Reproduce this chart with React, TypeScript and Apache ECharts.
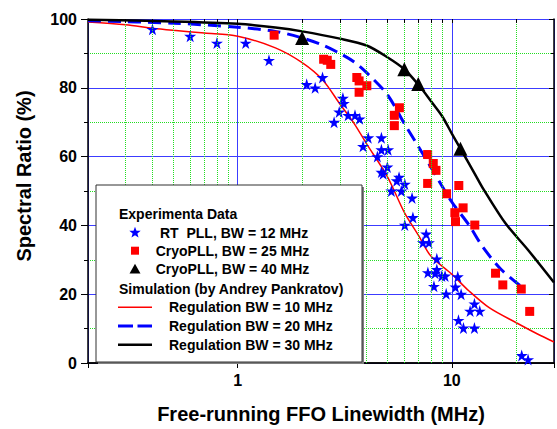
import { useEffect, useRef } from "react";
import * as echarts from "echarts";

// ---- Experimental data ----
const rtPllX = [0.4, 0.6, 0.8, 1.09, 1.4, 2.1, 2.3, 2.49, 3.1, 3.13, 2.98, 3.28, 3.53, 3.71, 2.82, 4.07, 4.69, 3.85, 4.69, 5.04, 4.49, 5.0, 4.69, 4.78, 5.53, 5.67, 6.03, 5.22, 5.81, 6.52, 6.58, 6.03, 7.59, 7.33, 7.82, 8.51, 8.51, 7.73, 8.35, 8.98, 9.3, 10.66, 8.25, 10.4, 9.41, 11.05, 12.75, 12.17, 13.5, 10.74, 11.33, 12.75, 21.2, 22.7];
const rtPllY = [97, 95, 93, 93, 88, 81, 80, 83, 77, 75.5, 73, 72, 72, 71, 70, 65.5, 65.5, 63, 62, 62, 60, 57, 55.5, 55, 53, 54, 52, 50, 50, 48, 42.3, 40.1, 37.5, 35, 35, 30.3, 27.2, 26.3, 26.1, 25.3, 25.3, 25.1, 22.3, 22.1, 20.1, 20, 17.2, 15.1, 15.1, 12.4, 10.2, 10.2, 2.2, 1.0];

const cryo25X = [1.48, 2.52, 2.62, 2.72, 3.6, 3.69, 4.01, 3.69, 5.69, 5.39, 5.39, 7.71, 8.19, 8.43, 7.71, 9.45, 10.78, 10.33, 11.29, 10.4, 12.8, 16.0, 17.3, 21.1, 23.1];
const cryo25Y = [95.3, 88.3, 88, 86.8, 83, 82, 80.6, 78.7, 74.2, 72, 69, 60.6, 58, 56, 52.2, 49.2, 51.6, 43.7, 45.1, 41.1, 40.1, 26.1, 22.7, 21.5, 15];

const cryo40X = [2.0, 6.0, 6.97, 10.97];
const cryo40Y = [94.5, 85.4, 81.1, 62.3];

// ---- Simulation curves ----
const sim10X = [0.2, 0.3, 0.4, 0.5, 0.7, 1, 1.5, 2, 2.5, 3, 3.5, 4, 5, 6, 7, 8, 10, 12, 15, 20, 25, 30];
const sim10Y = [99.1, 98.3, 97.3, 96.7, 95.9, 95.0, 91.6, 87.3, 82.2, 75.3, 69.6, 63.7, 54.2, 43.8, 37, 31, 25.8, 21, 16, 11.7, 8.5, 6.1];

const sim20X = [0.2, 0.5, 1, 1.5, 2, 2.5, 3, 3.5, 4, 5, 6, 7, 8, 10, 12, 14, 17, 21.5];
const sim20Y = [99.5, 98.8, 97.6, 96.4, 94.5, 92.4, 90, 87.5, 84.4, 78, 69.6, 62.8, 56.8, 46.8, 40.2, 33.6, 27.2, 21.8];

const sim30X = [0.2, 0.5, 1, 1.5, 2, 3, 4, 5, 6, 7, 8, 9, 10, 11, 12.8, 14, 17.8, 22.6, 30];
const sim30Y = [99.8, 99.3, 98.6, 97.5, 96.4, 94.3, 92.3, 88.9, 85.4, 80.8, 76.1, 71.8, 66.7, 62.2, 55, 50.7, 40.6, 33, 23.4];

// ---- Axis ticks ----
const xMajorTicks = [1, 10];
const xMinorTicks = [0.3, 0.4, 0.5, 0.6, 0.7, 0.8, 0.9, 2, 3, 4, 5, 6, 7, 8, 9, 20];
const yMin = 0;
const yMax = 100;

const FONT = '"Liberation Sans", Arial, Helvetica, sans-serif';
const STAR = "path://M50,0 L61,35 L98,35 L68,57 L79,91 L50,70 L21,91 L32,57 L2,35 L39,35 Z";

const zip = (xs: number[], ys: number[]) => xs.map((x, i) => [x, ys[i]]);

function starPoints(cx: number, cy: number, R: number, r: number) {
  const pts: number[][] = [];
  for (let i = 0; i < 10; i++) {
    const a = -Math.PI / 2 + (i * Math.PI) / 5;
    const rad = i % 2 === 0 ? R : r;
    pts.push([cx + rad * Math.cos(a), cy + rad * Math.sin(a)]);
  }
  return pts;
}

function legendText(x: number, y: number, text: string) {
  return {
    type: "text",
    x,
    y,
    z: 102,
    style: {
      text,
      fill: "#000",
      fontFamily: FONT,
      fontWeight: "bold",
      fontSize: 14,
      align: "left",
      verticalAlign: "middle",
    },
  };
}

export default function App() {
  const ref = useRef<HTMLDivElement>(null);
  useEffect(() => {
    const chart = echarts.init(ref.current!, undefined, { renderer: "svg" });
    const tickLen = 1.15; // in y units (~4px)
    const minorGridLines = xMinorTicks.map((x) => ({
      xAxis: x,
      lineStyle: { color: "#22dd22", width: 1, type: "dotted" },
    }));
    const bottomTicks = xMinorTicks.map((x) => [
      { coord: [x, yMin], lineStyle: { color: "#000", width: 1, type: "solid" } },
      { coord: [x, yMin - tickLen] },
    ]);
    const topTicks = xMajorTicks.concat(xMinorTicks).map((x) => [
      { coord: [x, yMax], lineStyle: { color: "#000", width: 1, type: "solid" } },
      { coord: [x, yMax - tickLen] },
    ]);
    const option: any = {
      animation: false,
      backgroundColor: "#fff",
      grid: { left: 88, top: 19, right: 1, bottom: 61 },
      xAxis: [
        {
          type: "log",
          logBase: 10,
          min: 0.2,
          max: 30,
          position: "bottom",
          name: "Free-running FFO Linewidth (MHz)",
          nameLocation: "middle",
          nameGap: 41,
          nameTextStyle: { fontFamily: FONT, fontWeight: "bold", fontSize: 20, color: "#000" },
          axisLine: { show: true, lineStyle: { color: "#000", width: 1.5 } },
          axisTick: { show: true, length: 5, lineStyle: { color: "#000", width: 1 } },
          axisLabel: {
            formatter: (v: number) => (xMajorTicks.indexOf(Math.round(v * 1000) / 1000) >= 0 ? String(Math.round(v)) : ""),
            fontFamily: FONT,
            fontWeight: "bold",
            fontSize: 16,
            color: "#000",
            margin: 9,
          },
          splitLine: { show: true, lineStyle: { color: "#3c3cff", width: 1 } },
        },
        {
          type: "log",
          logBase: 10,
          min: 0.2,
          max: 30,
          position: "top",
          axisLine: { show: true, lineStyle: { color: "#000", width: 1.5 } },
          axisTick: { show: false },
          axisLabel: { show: false },
          splitLine: { show: false },
        },
      ],
      yAxis: [
        {
          type: "value",
          min: yMin,
          max: yMax,
          interval: 20,
          position: "left",
          axisLine: { show: true, lineStyle: { color: "#000", width: 1.5 } },
          axisTick: { show: true, length: 7, lineStyle: { color: "#000", width: 1 } },
          minorTick: { show: true, splitNumber: 2, length: 4, lineStyle: { color: "#000", width: 1 } },
          minorSplitLine: { show: true, lineStyle: { color: "#22dd22", width: 1, type: "dotted" } },
          splitLine: { show: true, lineStyle: { color: "#3c3cff", width: 1 } },
          axisLabel: { fontFamily: FONT, fontWeight: "bold", fontSize: 16, color: "#000", margin: 11 },
        },
        {
          type: "value",
          min: yMin,
          max: yMax,
          interval: 20,
          position: "right",
          axisLine: { show: true, lineStyle: { color: "#000", width: 1.5 } },
          axisTick: { show: true, inside: true, length: 5, lineStyle: { color: "#000", width: 1 } },
          minorTick: { show: true, splitNumber: 2, length: 3, lineStyle: { color: "#000", width: 1 } },
          splitLine: { show: false },
          axisLabel: { show: false },
        },
      ],
      series: [
        {
          name: "grid",
          type: "line",
          data: [],
          clip: false,
          silent: true,
          z: 1,
          markLine: {
            silent: true,
            symbol: ["none", "none"],
            label: { show: false },
            animation: false,
            data: [...minorGridLines, ...bottomTicks, ...topTicks],
          },
        },
        {
          name: "Regulation BW = 10 MHz",
          type: "line",
          data: zip(sim10X, sim10Y),
          showSymbol: false,
          smooth: 0.3,
          lineStyle: { color: "#ff0000", width: 1.5 },
          z: 3,
        },
        {
          name: "Regulation BW = 20 MHz",
          type: "line",
          data: zip(sim20X, sim20Y),
          showSymbol: false,
          smooth: 0.3,
          lineStyle: { color: "#0000ff", width: 3, type: [13, 7] },
          z: 3,
        },
        {
          name: "Regulation BW = 30 MHz",
          type: "line",
          data: zip(sim30X, sim30Y),
          showSymbol: false,
          smooth: 0.3,
          lineStyle: { color: "#000", width: 2.5 },
          z: 3,
        },
        {
          name: "RT  PLL, BW = 12 MHz",
          type: "scatter",
          data: zip(rtPllX, rtPllY),
          symbol: STAR,
          symbolSize: 12,
          itemStyle: { color: "#0000ff", opacity: 1 },
          z: 4,
        },
        {
          name: "CryoPLL, BW = 25 MHz",
          type: "scatter",
          data: zip(cryo25X, cryo25Y),
          symbol: "rect",
          symbolSize: 9,
          itemStyle: { color: "#ff0000", opacity: 1 },
          z: 4,
        },
        {
          name: "CryoPLL, BW = 40 MHz",
          type: "scatter",
          data: zip(cryo40X, cryo40Y),
          symbol: "triangle",
          symbolSize: 14,
          itemStyle: { color: "#000", opacity: 1 },
          z: 5,
        },
      ],
      graphic: [
        {
          type: "text",
          x: 24,
          y: 176,
          rotation: Math.PI / 2,
          style: {
            text: "Spectral Ratio (%)",
            fill: "#000",
            fontFamily: FONT,
            fontWeight: "bold",
            fontSize: 20,
            align: "center",
            verticalAlign: "middle",
          },
        },
        { type: "rect", z: 100, shape: { x: 98, y: 187, width: 266, height: 177 }, style: { fill: "#808080" } },
        { type: "rect", z: 101, shape: { x: 96, y: 185, width: 266, height: 177 }, style: { fill: "#fff", stroke: "#303030", lineWidth: 1 } },
        legendText(119, 214, "Experimenta Data"),
        { type: "polygon", z: 102, shape: { points: starPoints(135, 232.7, 6, 2.5) }, style: { fill: "#0000ff" } },
        legendText(160, 232.7, "RT  PLL, BW = 12 MHz"),
        { type: "rect", z: 102, shape: { x: 131, y: 246.7, width: 8, height: 8 }, style: { fill: "#ff0000" } },
        legendText(155.7, 250.7, "CryoPLL, BW = 25 MHz"),
        { type: "polygon", z: 102, shape: { points: [[135, 263.8], [140.5, 273.5], [129.5, 273.5]] }, style: { fill: "#000" } },
        legendText(155.7, 269.3, "CryoPLL, BW = 40 MHz"),
        legendText(119, 289, "Simulation (by Andrey Pankratov)"),
        { type: "line", z: 102, shape: { x1: 118, y1: 307.3, x2: 152, y2: 307.3 }, style: { stroke: "#ff0000", lineWidth: 1.5 } },
        legendText(169, 307.3, "Regulation BW = 10 MHz"),
        { type: "line", z: 102, shape: { x1: 118, y1: 326, x2: 152, y2: 326 }, style: { stroke: "#0000ff", lineWidth: 3, lineDash: [15, 4.5] } },
        legendText(169, 326, "Regulation BW = 20 MHz"),
        { type: "line", z: 102, shape: { x1: 118, y1: 344.7, x2: 152, y2: 344.7 }, style: { stroke: "#000", lineWidth: 2.5 } },
        legendText(169, 344.7, "Regulation BW = 30 MHz"),
      ],
    };
    chart.setOption(option);
    return () => chart.dispose();
  }, []);
  return <div ref={ref} style={{ position: "fixed", left: 0, top: 0, width: 557, height: 429 }} />;
}
